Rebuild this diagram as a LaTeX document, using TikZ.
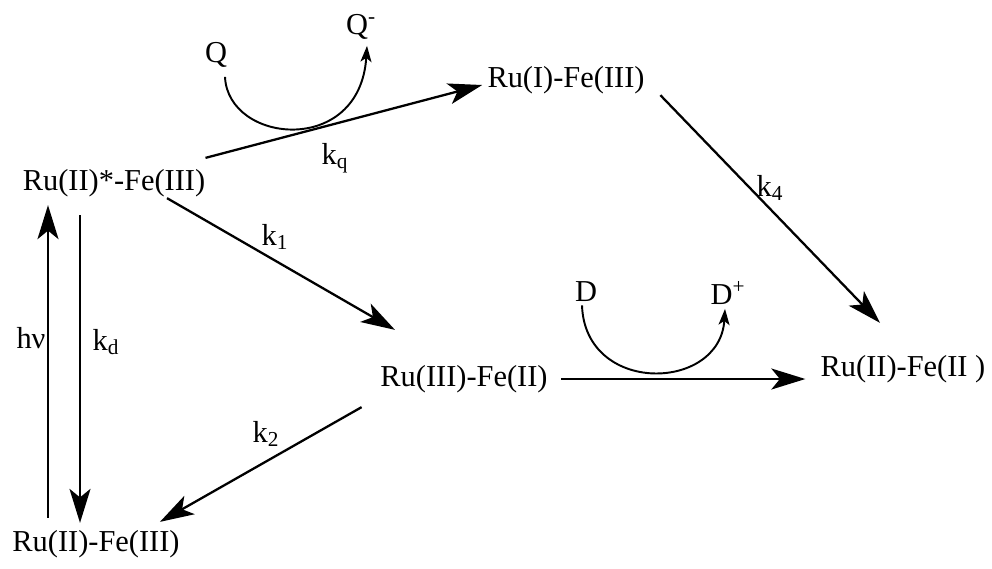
\documentclass[tikz,border=0pt]{standalone}
\usepackage{fontspec}
\setmainfont{Liberation Serif}
\usetikzlibrary{arrows.meta,calc}

\begin{document}
\begin{tikzpicture}[
  spec/.style={font=\fontsize{17.3}{20}\selectfont, inner sep=0.1cm},
  rate/.style={font=\fontsize{17.3}{20}\selectfont, inner sep=0.05cm},
  arr/.style={line width=1.3pt, -{Stealth[length=0.68cm,width=0.42cm,inset=0.17cm]}},
  hook/.style={line width=1.1pt, -{Stealth[length=0.32cm,width=0.22cm,inset=0.08cm]}}
]
\useasboundingbox (0,0) rectangle (19.84,-11.36);
% species
\node[spec] (ruA) at (2.28,-3.66) {Ru(II)*-Fe(III)};
\node[spec] (ruB) at (11.32,-1.60) {Ru(I)-Fe(III)};
\node[spec] (ruC) at (9.28,-7.58) {Ru(III)-Fe(II)};
\node[spec] (ruD) at (18.06,-7.38) {Ru(II)-Fe(II )};
\node[spec] (ruE) at (1.92,-10.88) {Ru(II)-Fe(III)};
\node[spec] (q) at (4.32,-1.10) {Q};
\node[spec] (qm) at (7.22,-0.54) {Q\textsuperscript{-}};
\node[spec] (d) at (11.72,-5.84) {D};
\node[spec] (dp) at (14.56,-5.86) {D\textsuperscript{+}};
% rate labels
\node[rate] (kq) at (6.70,-3.16) {k\textsubscript{q}};
\node[rate] (k1) at (5.50,-4.74) {k\textsubscript{1}};
\node[rate] (k4) at (15.40,-3.76) {k\textsubscript{4}};
\node[rate] (k2) at (5.32,-8.68) {k\textsubscript{2}};
\node[rate] (hv) at (0.62,-6.76) {hν};
\node[rate] (kd) at (2.12,-6.84) {k\textsubscript{d}};
% reactions
\draw[arr] ([shift={(-0.10,0.12)}]ruA.north east) -- ([yshift=-0.10cm]ruB.west);
\draw[arr] ([shift={(1.06,0.08)}]ruA.south) -- ([shift={(-1.38,0.60)}]ruC.north);
\draw[arr] ([shift={(0.21,0.08)}]ruB.south east) -- ([shift={(-0.46,0.54)}]ruD.north);
\draw[arr] ([xshift=0.17cm]ruC.east) -- ($(ruC.east -| ruD.west)+(-0.20,0)$);
\draw[arr] ([shift={(-0.27,-0.18)}]ruC.south west) -- ([shift={(-0.50,0.06)}]ruE.north east);
\draw[arr] ($(ruE.north)+(-0.96,0.14)$) -- ($(ruE.north |- ruA.south)+(-0.96,-0.06)$);
\draw[arr] ($(ruE.north |- ruA.south)+(-0.32,-0.26)$) -- ($(ruE.north)+(-0.32,0.04)$);
% quencher and donor
\draw[hook] ([shift={(0.18,-0.08)}]q.south) .. controls +(0.06,-1.34) and +(-0.14,-2.22) .. ([shift={(0.12,-0.02)}]qm.south);
\draw[hook] ([shift={(-0.08,0.04)}]d.south) .. controls +(0.06,-1.80) and +(-0.10,-1.66) .. ([shift={(-0.06,0.02)}]dp.south);
\end{tikzpicture}
\end{document}
